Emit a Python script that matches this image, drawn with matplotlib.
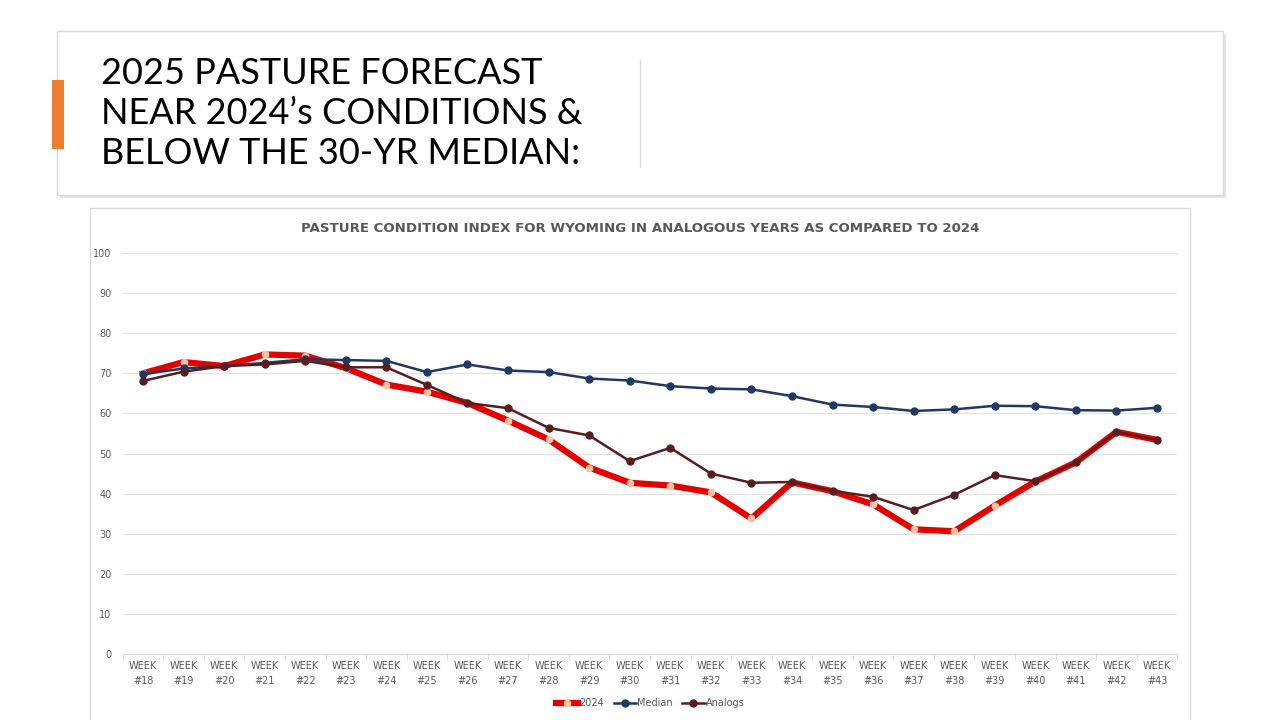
import matplotlib
matplotlib.use("Agg")
import matplotlib.pyplot as plt
from matplotlib.patches import Rectangle
from matplotlib.lines import Line2D

# weekly pasture condition index, weeks 18..43
weeks = list(range(18, 44))
week_labels = ["WEEK\n#%d" % w for w in weeks]

pci_2024 = [70.0, 72.8, 71.8, 74.7, 74.4, 71.3, 67.2, 65.4, 62.6, 58.2, 53.5, 46.5, 42.7,
            42.0, 40.3, 33.8, 42.8, 40.6, 37.3, 31.1, 30.6, 37.0, 43.0, 47.8, 55.4, 53.4]
pci_median = [69.8, 71.2, 71.8, 72.6, 73.5, 73.3, 73.1, 70.3, 72.2, 70.7, 70.3, 68.7, 68.2,
              66.8, 66.2, 66.0, 64.3, 62.2, 61.6, 60.6, 61.0, 61.9, 61.8, 60.8, 60.7, 61.4]
pci_analogs = [68.1, 70.4, 71.8, 72.2, 73.1, 71.5, 71.5, 67.1, 62.6, 61.3, 56.4, 54.5, 48.1,
               51.4, 45.0, 42.7, 42.9, 40.7, 39.2, 35.9, 39.7, 44.6, 43.1, 47.8, 55.4, 53.4]

title_lines = ["2025 PASTURE FORECAST", "NEAR 2024\u2019s CONDITIONS &", "BELOW THE 30-YR MEDIAN:"]
chart_title = "PASTURE CONDITION INDEX FOR WYOMING IN ANALOGOUS YEARS AS COMPARED TO 2024"

W, H = 1280, 720
fig = plt.figure(figsize=(12.8, 7.2), dpi=100)
fig.patch.set_facecolor("white")


def px(x, y, w, h):
    # pixel box (top-left origin) -> figure fraction
    return (x / W, 1 - (y + h) / H, w / W, h / H)


# title card with a soft shadow
x0, y0, w0, h0 = px(60, 34, 1166, 164)
fig.add_artist(Rectangle((x0, y0), w0, h0, transform=fig.transFigure,
                         facecolor="#e4e4e4", edgecolor="none", zorder=0))
x0, y0, w0, h0 = px(57, 31, 1166, 164)
fig.add_artist(Rectangle((x0, y0), w0, h0, transform=fig.transFigure,
                         facecolor="white", edgecolor="#d9d9d9", linewidth=1, zorder=1))
x0, y0, w0, h0 = px(52, 80, 12, 69)
fig.add_artist(Rectangle((x0, y0), w0, h0, transform=fig.transFigure,
                         facecolor="#ed7d31", edgecolor="none", zorder=2))
fig.add_artist(Line2D([640 / W, 640 / W], [1 - 60 / H, 1 - 167 / H], transform=fig.transFigure,
                      color="#d9d9d9", linewidth=1, zorder=2))
for i, line in enumerate(title_lines):
    fig.text(101 / W, 1 - (84 + i * 40) / H, line, fontsize=26, family="Lato",
             color="black", ha="left", va="baseline", zorder=3)

# chart frame
x0, y0, w0, h0 = px(90, 208, 1100, 520)
fig.add_artist(Rectangle((x0, y0), w0, h0, transform=fig.transFigure,
                         facecolor="white", edgecolor="#d9d9d9", linewidth=1, zorder=0))
fig.text(640 / W, 1 - 228 / H, chart_title, fontsize=9.6, fontweight="bold",
         color="#595959", ha="center", va="center")

ax = fig.add_axes([122.7 / W, (720 - 654) / H, (1177.3 - 122.7) / W, (654 - 253) / H])
x = list(range(len(weeks)))

ax.plot(x, pci_2024, color="#e50000", linewidth=4.5, marker="o", markersize=4.5,
        markerfacecolor="#f8c4a4", markeredgecolor="#f8c4a4", label="2024", zorder=3)
ax.plot(x, pci_median, color="#203864", linewidth=1.8, marker="o", markersize=5,
        markerfacecolor="#203864", markeredgecolor="#203864", label="Median", zorder=4)
ax.plot(x, pci_analogs, color="#5a1d1d", linewidth=1.8, marker="o", markersize=5,
        markerfacecolor="#5a1d1d", markeredgecolor="#5a1d1d", label="Analogs", zorder=5)

ax.set_xlim(-0.5, len(weeks) - 0.5)
ax.set_ylim(0, 100)
ax.set_yticks(range(0, 101, 10))
ax.set_xticks(x)
ax.set_xticklabels(week_labels, fontsize=7, color="#595959", linespacing=1.6)
ax.tick_params(axis="y", labelsize=7, colors="#595959", length=0, pad=8)
ax.tick_params(axis="x", length=0, pad=5)
ax.set_xticks([i - 0.5 for i in range(len(weeks) + 1)], minor=True)
ax.tick_params(axis="x", which="minor", length=4, color="#d9d9d9")
ax.grid(axis="y", color="#e3e3e3", linewidth=0.9)
ax.set_axisbelow(True)
for s in ["top", "right", "left"]:
    ax.spines[s].set_visible(False)
ax.spines["bottom"].set_color("#d9d9d9")
ax.set_facecolor("none")

leg = ax.legend(loc="center", bbox_to_anchor=(0.5, (654 - 703) / (654 - 253)), ncol=3,
                frameon=False, fontsize=7, handlelength=2.3, columnspacing=1.0,
                handletextpad=0.1, labelcolor="#595959")

fig.savefig("out.png", dpi=100)
